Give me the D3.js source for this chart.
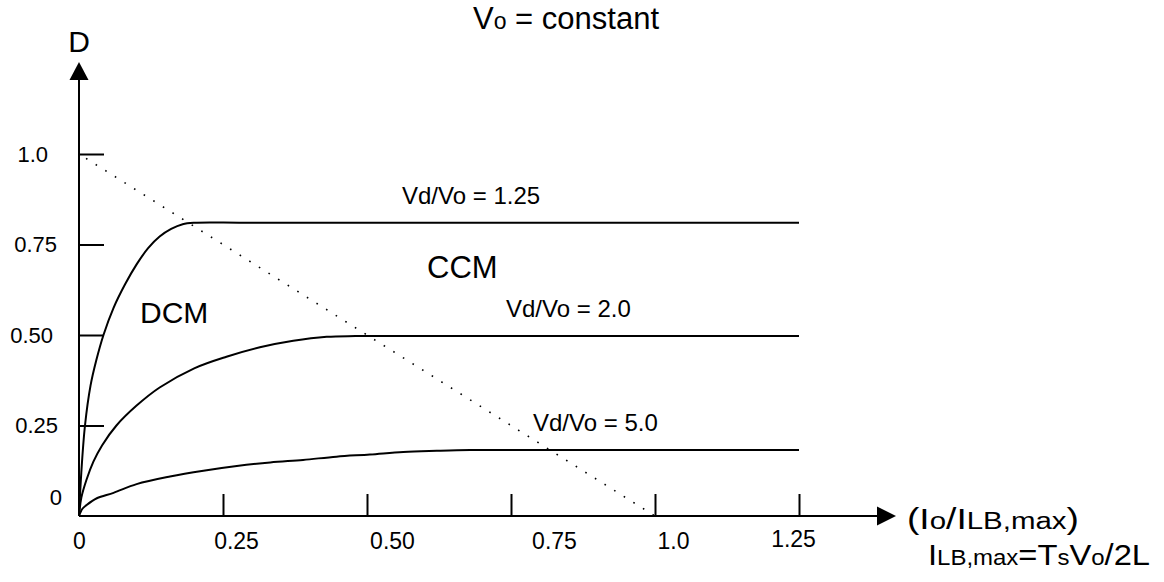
<!DOCTYPE html>
<html>
<head>
<meta charset="utf-8">
<script src="https://cdn.jsdelivr.net/npm/d3@7"></script>
<style>
  body { margin: 0; background: #fff; }
  svg { display: block; font-family: "Liberation Sans", Arial, sans-serif; }
</style>
</head>
<body>
<div class="chart"></div>
<script>
'use strict';

// tick values and labels
const xTickValues = [0, 0.25, 0.5, 0.75, 1.0, 1.25];
const xTickLabels = ["0", "0.25", "0.50", "0.75", "1.0", "1.25"];
const yTickValues = [0, 0.25, 0.5, 0.75, 1.0];
const yTickLabels = ["0", "0.25", "0.50", "0.75", "1.0"];

// D vs Io/ILB,max
const io125 = [0, 0.004, 0.0104, 0.02, 0.03, 0.0425, 0.06, 0.08, 0.1, 0.12, 0.14, 0.16, 0.18, 0.2, 0.3, 1.25];
const d125  = [0, 0.12, 0.25, 0.36, 0.43, 0.5, 0.575, 0.64, 0.695, 0.74, 0.772, 0.793, 0.806, 0.81, 0.81, 0.81];
const io20  = [0, 0.004, 0.013, 0.025, 0.04, 0.065, 0.1, 0.14, 0.2, 0.256, 0.314, 0.372, 0.43, 0.48, 0.6, 1.25];
const d20   = [0, 0.05, 0.1, 0.15, 0.195, 0.25, 0.305, 0.355, 0.408, 0.44, 0.466, 0.484, 0.495, 0.497, 0.497, 0.497];
const io50  = [0, 0.006, 0.013, 0.031, 0.06, 0.1, 0.158, 0.216, 0.274, 0.332, 0.389, 0.447, 0.505, 0.563, 0.621, 0.679, 0.8, 1.25];
const d50   = [0, 0.02, 0.03, 0.049, 0.064, 0.088, 0.109, 0.125, 0.138, 0.148, 0.155, 0.164, 0.17, 0.177, 0.18, 0.182, 0.182, 0.182];
const ratioLabels = ["Vd/Vo = 1.25", "Vd/Vo = 2.0", "Vd/Vo = 5.0"];

// CCM / DCM boundary
const boundaryIo = [0, 1.0];
const boundaryD  = [1.0, 0];

const width = 1164, height = 582;
const x = d3.scaleLinear().domain([0, 1.25]).range([79, 799]);
const y = d3.scaleLinear().domain([0, 1.0]).range([516, 154]);

const svg = d3.select(".chart").append("svg")
    .attr("width", width)
    .attr("height", height);

const zip = (a, b) => a.map((v, i) => [v, b[i]]);
const line = d3.line()
    .x(p => x(p[0]))
    .y(p => y(p[1]))
    .curve(d3.curveCatmullRom.alpha(0.5));

// axes lines + arrowheads
svg.append("line")
    .attr("x1", x(0)).attr("y1", y(0))
    .attr("x2", x(0)).attr("y2", 80)
    .attr("stroke", "#000").attr("stroke-width", 2);
svg.append("path")
    .attr("d", `M${x(0)},62 L${x(0) - 9.5},80 L${x(0) + 9.5},80 Z`)
    .attr("fill", "#000");
svg.append("line")
    .attr("x1", x(0)).attr("y1", y(0))
    .attr("x2", 878).attr("y2", y(0))
    .attr("stroke", "#000").attr("stroke-width", 2);
svg.append("path")
    .attr("d", `M896,${y(0)} L877,${y(0) - 9.5} L877,${y(0) + 9.5} Z`)
    .attr("fill", "#000");

// y axis: ticks point inward
const yAxis = d3.axisLeft(y)
    .tickValues(yTickValues)
    .tickFormat((d, i) => yTickLabels[i])
    .tickSizeInner(-25)
    .tickSizeOuter(0);
const gy = svg.append("g").attr("transform", `translate(${x(0)},0)`).call(yAxis);
gy.select(".domain").remove();
gy.selectAll(".tick line")
    .attr("stroke", "#000").attr("stroke-width", 2)
    .attr("opacity", d => d === 0 ? 0 : 1);
const yLabelEnd = [-17, -21, -26, -22, -31];
gy.selectAll(".tick text")
    .attr("x", (d, i) => yLabelEnd[i])
    .attr("dy", (d, i) => i === 0 ? -12 : "0.32em")
    .attr("font-size", 22)
    .attr("font-family", "Liberation Sans, Arial, sans-serif")
    .attr("fill", "#000");

// x axis: ticks point up
const xAxis = d3.axisBottom(x)
    .tickValues(xTickValues)
    .tickFormat((d, i) => xTickLabels[i])
    .tickSizeInner(-22)
    .tickSizeOuter(0);
const gx = svg.append("g").attr("transform", `translate(0,${y(0)})`).call(xAxis);
gx.select(".domain").remove();
gx.selectAll(".tick line")
    .attr("stroke", "#000").attr("stroke-width", 2)
    .attr("opacity", d => d === 0 ? 0 : 1);
const xLabelShift = [0, 13, 25, 43, 18, -6];
gx.selectAll(".tick text")
    .attr("x", (d, i) => xLabelShift[i])
    .attr("y", (d, i) => i === 5 ? 31 : 33)
    .attr("dy", 0)
    .attr("font-size", 23)
    .attr("font-family", "Liberation Sans, Arial, sans-serif")
    .attr("fill", "#000");

// boundary, dotted
svg.append("path")
    .attr("d", d3.line().x(p => x(p[0])).y(p => y(p[1]))(zip(boundaryIo, boundaryD)))
    .attr("fill", "none")
    .attr("stroke", "#000")
    .attr("stroke-width", 1.6)
    .attr("stroke-dasharray", "1.6,9.74")
    .attr("stroke-dashoffset", 3);

// curves
[[io125, d125], [io20, d20], [io50, d50]].forEach(([a, b]) => {
    svg.append("path")
        .attr("d", line(zip(a, b)))
        .attr("fill", "none")
        .attr("stroke", "#000")
        .attr("stroke-width", 2);
});

// text
const txt = (tx, ty, size) => svg.append("text")
    .attr("x", tx).attr("y", ty)
    .attr("font-size", size)
    .attr("fill", "#000");

const title = txt(473, 29, 31);
title.append("tspan").text("V");
title.append("tspan").attr("font-size", 23).text("o");
title.append("tspan").text(" = constant");

txt(x(0), 52, 30).attr("text-anchor", "middle").text("D");
txt(140, 323, 30).text("DCM");
txt(427, 278, 31).text("CCM");

const lvl = [d125[d125.length - 1], d20[d20.length - 1], d50[d50.length - 1]];
const labelX = [402, 506, 533];
ratioLabels.forEach((t, i) => {
    txt(labelX[i], y(lvl[i]) - 19, 24).text(t);
});

// axis name and its definition; glyphs stretched a little like the original
const ax = txt(907, 529, 29)
    .attr("textLength", 172).attr("lengthAdjust", "spacingAndGlyphs");
ax.append("tspan").text("(I");
ax.append("tspan").attr("font-size", 23).text("o");
ax.append("tspan").text("/I");
ax.append("tspan").attr("font-size", 23).text("LB,max");
ax.append("tspan").text(")");

const f = txt(928, 565, 30)
    .attr("textLength", 222).attr("lengthAdjust", "spacingAndGlyphs");
f.append("tspan").text("I");
f.append("tspan").attr("font-size", 22).text("LB,max");
f.append("tspan").text("=T");
f.append("tspan").attr("font-size", 22).text("s");
f.append("tspan").text("V");
f.append("tspan").attr("font-size", 22).text("o");
f.append("tspan").text("/2L");
</script>
</body>
</html>
